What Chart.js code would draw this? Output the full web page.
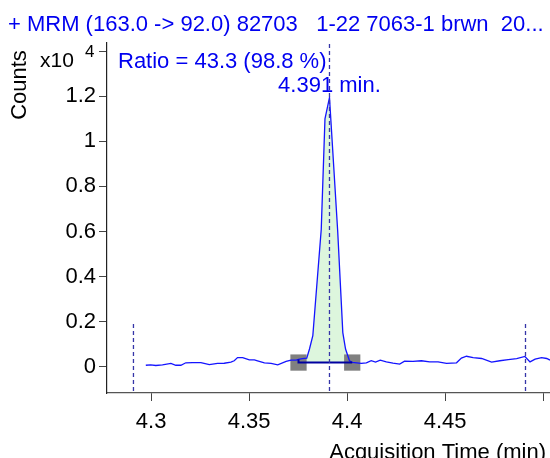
<!DOCTYPE html>
<html>
<head>
<meta charset="utf-8">
<title>MRM (163.0 -> 92.0)</title>
<script src="https://cdn.jsdelivr.net/npm/chart.js@4.4.0/dist/chart.umd.min.js"></script>
<style>
  html, body { margin: 0; padding: 0; background: #fff; }
  canvas { display: block; }
</style>
</head>
<body>
<canvas id="chromChart" width="550" height="458"></canvas>
<script>
// Chromatogram trace: acquisition time (min) and counts (x10^4)
const times = [
  4.2973, 4.2998, 4.3024, 4.3058, 4.3101, 4.3126, 4.3152, 4.3177, 4.3211, 4.3254,
  4.3297, 4.3339, 4.3373, 4.3407, 4.3424, 4.3441, 4.3467, 4.3501, 4.3527, 4.3543,
  4.3578, 4.3612, 4.3646, 4.3689, 4.3714, 4.3740, 4.3752, 4.3772, 4.3794, 4.3808,
  4.3825, 4.3868, 4.3887, 4.3910, 4.3952, 4.3978, 4.3992, 4.4012, 4.4026, 4.4072,
  4.4098, 4.4123, 4.4145, 4.4169, 4.4200, 4.4234, 4.4268, 4.4293, 4.4336, 4.4379,
  4.4421, 4.4464, 4.4507, 4.4558, 4.4583, 4.4609, 4.4643, 4.4686, 4.4737, 4.4779,
  4.4822, 4.4865, 4.4907, 4.4933, 4.4959, 4.4992, 4.5018, 4.5035
];
const counts = [
  0.007, 0.009, 0.006, 0.009, 0.015, 0.007, 0.007, 0.018, 0.019, 0.019,
  0.010, 0.015, 0.016, 0.021, 0.027, 0.041, 0.041, 0.031, 0.031, 0.027,
  0.018, 0.015, 0.009, 0.024, 0.030, 0.030, 0.033, 0.036, 0.038, 0.079,
  0.138, 0.610, 1.100, 1.194, 0.600, 0.152, 0.079, 0.027, 0.020, 0.015,
  0.018, 0.027, 0.021, 0.030, 0.022, 0.016, 0.012, 0.025, 0.024, 0.027,
  0.022, 0.022, 0.015, 0.018, 0.039, 0.047, 0.041, 0.037, 0.021, 0.027,
  0.032, 0.036, 0.046, 0.022, 0.034, 0.041, 0.037, 0.030
];

// Integrated peak: start / end of the baseline and its level
const peakStart = 4.3752;
const peakEnd = 4.4026;
const baseLevel = 0.019;
const peakTime = 4.391;

// Dashed markers: window limits and the retention time
const markTimes = [4.291, 4.391, 4.491];
const markTops = [0.196, 1.436, 0.196];
const markBottom = -0.107;

// Axes
const xMin = 4.2775, xMax = 4.5035;
const yMin = -0.116, yMax = 1.436;
const xTicks = [4.3, 4.35, 4.4, 4.45, 4.5];
const xLabels = ["4.3", "4.35", "4.4", "4.45", ""];
const yTicks = [0, 0.2, 0.4, 0.6, 0.8, 1, 1.2, 1.4];
const yLabels = ["0", "0.2", "0.4", "0.6", "0.8", "1", "1.2", ""];

const titleText = "+ MRM (163.0 -> 92.0) 82703   1-22 7063-1 brwn  20...";
const ratioText = "Ratio = 43.3 (98.8 %)";
const rtText = "4.391 min.";

const FONT = '"Liberation Sans", Arial, sans-serif';
const BLUE = "#0000f0";

document.addEventListener("DOMContentLoaded", function () {
  const trace = times.map((t, i) => ({ x: t, y: counts[i] }));
  const peak = trace.filter((p) => p.x >= peakStart && p.x <= peakEnd);

  const markerSets = markTimes.map((t, i) => ({
    data: [{ x: t, y: markBottom }, { x: t, y: markTops[i] }],
    showLine: true,
    borderColor: "#3535a8",
    borderWidth: 1.3,
    borderDash: [4, 3],
    pointRadius: 0,
    order: 0,
  }));

  // text around the plot
  const chromText = {
    id: "chromText",
    afterDraw(chart) {
      const ctx = chart.ctx;
      const x = chart.scales.x;
      ctx.save();
      ctx.textBaseline = "alphabetic";

      ctx.fillStyle = BLUE;
      ctx.textAlign = "left";
      ctx.font = "22px " + FONT;
      ctx.fillText(titleText, 8, 31);

      ctx.fillText(ratioText, 118, 68);
      ctx.textAlign = "center";
      ctx.fillText(rtText, x.getPixelForValue(peakTime), 92);

      ctx.fillStyle = "#000";
      ctx.textAlign = "right";
      ctx.fillText("Acquisition Time (min)", 546, 459);

      ctx.textAlign = "left";
      ctx.font = "21px " + FONT;
      ctx.fillText("x10", 40, 67);
      ctx.font = "17px " + FONT;
      ctx.fillText("4", 85, 57);

      ctx.translate(26, 85);
      ctx.rotate(-Math.PI / 2);
      ctx.textAlign = "center";
      ctx.font = "22px " + FONT;
      ctx.fillText("Counts", 0, 0);
      ctx.restore();
    },
  };

  const ctx = document.getElementById("chromChart").getContext("2d");
  new Chart(ctx, {
    type: "scatter",
    data: {
      datasets: [
        ...markerSets,
        {
          // integration baseline
          data: [
            { x: peakStart, y: peak[0].y },
            { x: peakStart, y: baseLevel },
            { x: peakEnd, y: baseLevel },
          ],
          showLine: true,
          borderColor: "#0000a0",
          borderWidth: 2,
          pointRadius: 0,
          order: 1,
        },
        {
          data: trace,
          showLine: true,
          borderColor: "#1414ff",
          borderWidth: 1.3,
          pointRadius: 0,
          tension: 0,
          order: 2,
        },
        {
          // peak start / end markers
          data: [
            { x: peakStart, y: baseLevel },
            { x: peakEnd, y: baseLevel },
          ],
          pointStyle: "rect",
          pointRadius: 11.5,
          backgroundColor: "#808080",
          borderWidth: 0,
          order: 3,
        },
        {
          // filled peak area
          data: peak,
          showLine: true,
          fill: { value: baseLevel },
          backgroundColor: "#ddf6dd",
          borderWidth: 0,
          pointRadius: 0,
          order: 4,
        },
      ],
    },
    options: {
      responsive: false,
      animation: false,
      devicePixelRatio: 1,
      layout: { autoPadding: false, padding: { top: 43, left: 0, right: 0, bottom: 0 } },
      plugins: {
        legend: { display: false },
        tooltip: { enabled: false },
      },
      scales: {
        x: {
          type: "linear",
          min: xMin,
          max: xMax,
          afterBuildTicks: (s) => { s.ticks = xTicks.map((v) => ({ value: v })); },
          afterFit: (s) => { s.height = 65; s.paddingLeft = 0; s.paddingRight = 0; },
          grid: { drawOnChartArea: false, tickLength: 8, tickColor: "#444", tickWidth: 1 },
          border: { color: "#555", width: 1.2 },
          ticks: {
            autoSkip: false,
            maxRotation: 0,
            padding: 8,
            color: "#000",
            font: { family: FONT, size: 22 },
            callback: (v, i) => xLabels[i],
          },
        },
        y: {
          type: "linear",
          min: yMin,
          max: yMax,
          afterBuildTicks: (s) => { s.ticks = yTicks.map((v) => ({ value: v })); },
          afterFit: (s) => { s.width = 107; },
          grid: { drawOnChartArea: false, tickLength: 8, tickColor: "#444", tickWidth: 1 },
          border: { color: "#222", width: 1.2 },
          ticks: {
            padding: 3,
            color: "#000",
            font: { family: FONT, size: 22 },
            callback: (v, i) => yLabels[i],
          },
        },
      },
    },
    plugins: [chromText],
  });
});
</script>
</body>
</html>
